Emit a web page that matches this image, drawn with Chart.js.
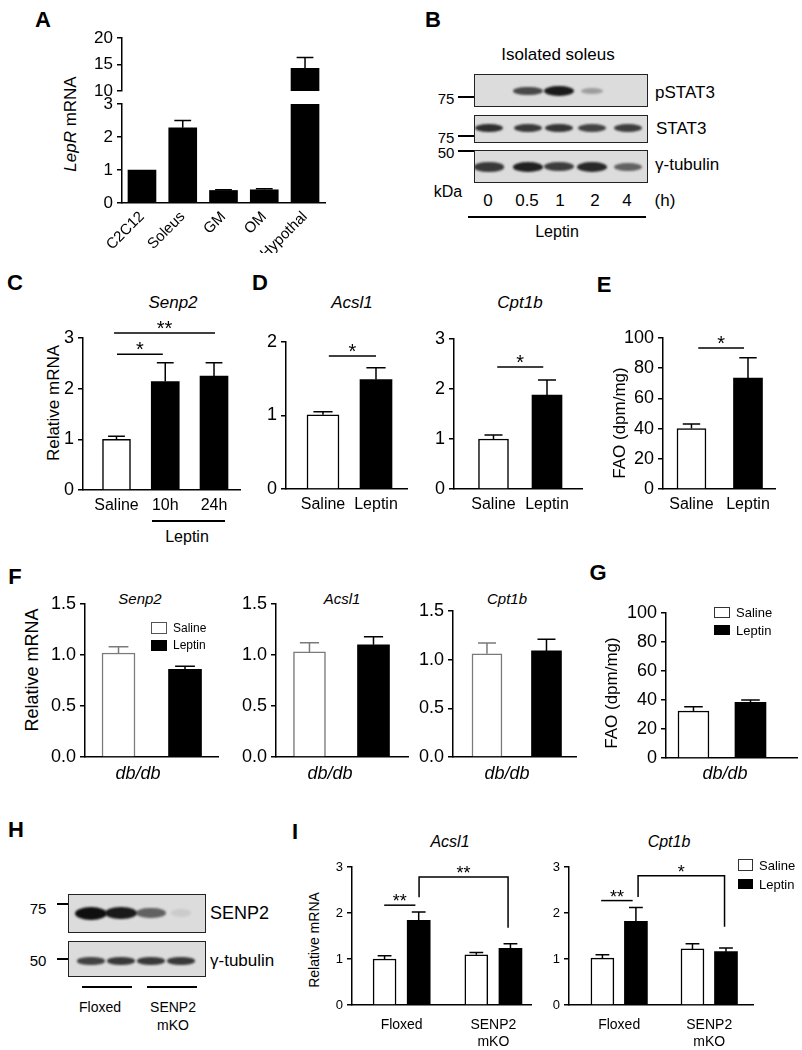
<!DOCTYPE html>
<html><head><meta charset="utf-8">
<script src="https://cdn.jsdelivr.net/npm/chart.js@4.4.0/dist/chart.umd.min.js"></script>
<style>
html,body{margin:0;padding:0;background:#fff;}
#fig{position:relative;width:802px;height:1050px;overflow:hidden;font-family:'Liberation Sans',Arial,Helvetica,sans-serif;color:#000;}
.t{position:absolute;white-space:nowrap;line-height:1;}
.cv{position:absolute;}
.ln{position:absolute;background:#000;}
.blot{position:absolute;background:#dcdcdc;border:1.5px solid #222;box-sizing:border-box;overflow:hidden;}
.band{position:absolute;border-radius:50%;filter:blur(1.3px);}
</style></head><body><div id="fig"></div>
<script>
// ---------------- DATA ----------------
// Panel A
const tissuesA = ['C2C12', 'Soleus', 'GM', 'OM', 'Hypothal'];
const lepRmRNA = [1.0, 2.28, 0.38, 0.40, 14.26];
const lepRErr  = [0, 0.22, 0.02, 0.03, 2.05];
const yTicksALow  = [0, 1, 2, 3];
const yTicksAHigh = [10, 15, 20];
// Panel B (western blot band intensities, 0..1)
const laneTimesB  = ['0', '0.5', '1', '2', '4'];
const pSTAT3Band  = [0.0, 0.72, 0.95, 0.3, 0.0];
const stat3Band   = [0.85, 0.8, 0.82, 0.75, 0.78];
const tubBandB    = [0.8, 0.92, 0.78, 0.88, 0.6];
// Panel C
const groupsC   = ['Saline', '10h', '24h'];
const senp2C    = [1.0, 2.14, 2.25];
const senp2CErr = [0.06, 0.37, 0.26];
// Two-group panels
const groupsSL  = ['Saline', 'Leptin'];
const acsl1D = [1.01, 1.49];  const acsl1DErr = [0.04, 0.16];
const cpt1bD = [1.0, 1.88];   const cpt1bDErr = [0.08, 0.30];
const faoE   = [40, 73.5];    const faoEErr   = [3, 13.5];
const senp2F = [1.02, 0.86];  const senp2FErr = [0.06, 0.03];
const acsl1F = [1.03, 1.10];  const acsl1FErr = [0.09, 0.08];
const cpt1bF = [1.06, 1.09];  const cpt1bFErr = [0.11, 0.12];
const faoG   = [32.4, 38.4];  const faoGErr   = [3, 1.6];
// Panel H blot
const senp2BandH = [1.0, 0.95, 0.6, 0.08];
const tubBandH   = [0.75, 0.8, 0.8, 0.8];
// Panel I
const genotypesI = ['Floxed', ['SENP2', 'mKO']];
const acsl1ISaline = [1.0, 1.09];  const acsl1ISalineErr = [0.07, 0.05];
const acsl1ILeptin = [1.84, 1.23]; const acsl1ILeptinErr = [0.18, 0.10];
const cpt1bISaline = [1.02, 1.22]; const cpt1bISalineErr = [0.07, 0.11];
const cpt1bILeptin = [1.82, 1.16]; const cpt1bILeptinErr = [0.30, 0.08];
// tick sets
const yTicks3 = [0, 1, 2, 3];
const yTicks2 = [0, 1, 2];
const yTicks100 = [0, 20, 40, 60, 80, 100];
const yTicks15 = [0, 0.5, 1.0, 1.5];
// significance marks (data coordinates)
const sigC  = [{x1: 0.01, x2: 0.95, y: 2.68, text: '*'}, {x1: -0.05, x2: 2.02, y: 3.1, text: '**'}];
const sigD1 = [{x1: 0.11, x2: 1.0, y: 1.81, text: '*'}];
const sigD2 = [{x1: 0.07, x2: 0.93, y: 2.44, text: '*'}];
const sigE  = [{x1: 0.12, x2: 0.93, y: 93.4, text: '*'}];
const sigI1 = [{x1: -0.19, x2: 0.15, y: 2.17, text: '**'},
               {x1: 0.19, x2: 1.16, y: 2.78, y1: 2.34, y2: 1.68, text: '**'}];
const sigI2 = [{x1: -0.20, x2: 0.15, y: 2.27, text: '**'},
               {x1: 0.21, x2: 1.17, y: 2.81, y1: 2.35, y2: 1.70, text: '*'}];

// ---------------- HELPERS ----------------
const FONT = "'Liberation Sans', Arial, Helvetica, sans-serif";
Chart.defaults.font.family = FONT;
Chart.defaults.color = '#000';
const fig = document.getElementById('fig');

function text(str, x, y, o = {}) {
  const d = document.createElement('div');
  d.className = 't';
  d.innerHTML = str;
  d.style.fontSize = (o.size || 16) + 'px';
  if (o.bold) d.style.fontWeight = 'bold';
  if (o.italic) d.style.fontStyle = 'italic';
  const tx = o.anchor === 'left' ? '0' : '-50%';
  d.style.left = x + 'px';
  d.style.top = y + 'px';
  d.style.transform = `translate(${tx},-50%)` + (o.rotate ? ` rotate(${o.rotate}deg)` : '');
  fig.appendChild(d);
}
function hl(x1, x2, y, w = 1.5) {
  const d = document.createElement('div'); d.className = 'ln';
  d.style.left = x1 + 'px'; d.style.top = (y - w / 2) + 'px';
  d.style.width = (x2 - x1) + 'px'; d.style.height = w + 'px';
  fig.appendChild(d);
}
function rect(x, y, w, h, fill, border) {
  const d = document.createElement('div');
  d.style.position = 'absolute';
  d.style.left = x + 'px'; d.style.top = y + 'px';
  d.style.width = w + 'px'; d.style.height = h + 'px';
  d.style.boxSizing = 'border-box';
  d.style.background = fill;
  d.style.border = '1.5px solid ' + border;
  fig.appendChild(d);
}
function blot(x, y, w, h, lanes, vals, bw, bh, by) {
  const b = document.createElement('div'); b.className = 'blot';
  b.style.left = x + 'px'; b.style.top = y + 'px';
  b.style.width = w + 'px'; b.style.height = h + 'px';
  vals.forEach((v, i) => {
    if (v <= 0.01) return;
    const s = document.createElement('div'); s.className = 'band';
    const ww = bw * (0.6 + 0.4 * Math.min(1, v * 1.3));
    const hh = bh * (0.55 + 0.45 * v);
    s.style.width = ww + 'px'; s.style.height = hh + 'px';
    s.style.left = (lanes[i] - x - ww / 2) + 'px';
    s.style.top = (by - y - hh / 2) + 'px';
    s.style.background = `rgba(15,15,15,${Math.min(1, v)})`;
    b.appendChild(s);
  });
  fig.appendChild(b);
}

const errorBars = {
  id: 'errorBars',
  afterDatasetsDraw(chart) {
    const {ctx, chartArea: a} = chart;
    const ys = chart.scales.y;
    ctx.save();
    ctx.beginPath();
    ctx.rect(a.left - 20, a.top - 1, a.right - a.left + 40, a.bottom - a.top + 1);
    ctx.clip();
    chart.data.datasets.forEach((ds, di) => {
      if (!ds.errors) return;
      const meta = chart.getDatasetMeta(di);
      meta.data.forEach((bar, i) => {
        const e = ds.errors[i];
        if (!e) return;
        const yTop = ys.getPixelForValue(ds.data[i].y + e);
        const half = bar.width * 0.3;
        ctx.strokeStyle = ds.errColor; ctx.lineWidth = 1.5;
        ctx.beginPath();
        ctx.moveTo(bar.x, bar.y); ctx.lineTo(bar.x, yTop);
        ctx.moveTo(bar.x - half, yTop); ctx.lineTo(bar.x + half, yTop);
        ctx.stroke();
      });
    });
    ctx.restore();
  }
};
const sigMarks = {
  id: 'sigMarks',
  afterDraw(chart, args, opts) {
    const items = opts.items || [];
    if (!items.length) return;
    const {ctx} = chart; const xs = chart.scales.x, ys = chart.scales.y;
    ctx.save();
    ctx.strokeStyle = '#000'; ctx.fillStyle = '#000'; ctx.lineWidth = 1.5;
    ctx.font = `${opts.size || 20}px ${FONT}`;
    ctx.textAlign = 'center'; ctx.textBaseline = 'alphabetic';
    items.forEach(it => {
      const X1 = xs.getPixelForValue(it.x1), X2 = xs.getPixelForValue(it.x2);
      const Y = ys.getPixelForValue(it.y);
      ctx.beginPath();
      if (it.y1 !== undefined) {
        ctx.moveTo(X1, ys.getPixelForValue(it.y1)); ctx.lineTo(X1, Y);
        ctx.lineTo(X2, Y); ctx.lineTo(X2, ys.getPixelForValue(it.y2));
      } else { ctx.moveTo(X1, Y); ctx.lineTo(X2, Y); }
      ctx.stroke();
      ctx.fillText(it.text, (X1 + X2) / 2, Y + (opts.dy || 2));
    });
    ctx.restore();
  }
};

function ds(xs, ys, errs, kind, thick) {
  return {
    data: xs.map((x, i) => ({x, y: ys[i]})),
    errors: errs,
    backgroundColor: kind === 'black' ? '#000' : '#fff',
    borderColor: kind === 'gray' ? '#7a7a7a' : '#000',
    borderWidth: kind === 'black' ? 0 : 1.5,
    errColor: kind === 'gray' ? '#7a7a7a' : '#000',
    barThickness: thick, grouped: false, clip: 0
  };
}

function makeBar(P, o) {
  // keep Chart.js from pushing the plot area inward for y tick label overflow
  const yFont = o.yFont || 18;
  const need = Math.ceil(yFont * 0.6 + 4 + 1);
  const padT = Math.max(P.padT, need);
  const padB = Math.max(P.padB || 0, need - P.Xh);
  const W = P.right - P.left + P.Yw + P.padR;
  const H = P.bottom - P.top + padT + padB + P.Xh;
  const wrap = document.createElement('div'); wrap.className = 'cv';
  wrap.style.left = (P.left - P.Yw) + 'px'; wrap.style.top = (P.top - padT) + 'px';
  wrap.style.width = W + 'px'; wrap.style.height = H + 'px';
  const cv = document.createElement('canvas');
  cv.width = W; cv.height = H; cv.style.width = W + 'px'; cv.style.height = H + 'px';
  wrap.appendChild(cv); fig.appendChild(wrap);
  const xTicks = o.xLabels ? o.xLabels.map((_, i) => i) : [];
  new Chart(cv, {
    type: 'bar',
    data: {datasets: o.datasets},
    options: {
      responsive: false, animation: false, devicePixelRatio: 1,
      layout: {padding: {top: padT, right: P.padR, bottom: padB, left: 0}},
      plugins: {legend: {display: false}, tooltip: {enabled: false},
                sigMarks: {items: o.sig || [], size: o.sigSize || 20, dy: o.sigDy || 2}},
      scales: {
        x: {
          type: 'linear', min: o.xMin, max: o.xMax, display: o.xDisplay !== false, offset: false,
          grid: {display: false, drawTicks: false, offset: false},
          border: {display: true, color: '#000', width: 1.5},
          afterBuildTicks: s => { s.ticks = xTicks.map(v => ({value: v})); },
          ticks: {display: !!o.xLabels, autoSkip: false, maxRotation: o.xRot || 0, minRotation: o.xRot || 0,
                  padding: o.xPad || 6, font: {size: o.xFont || 16}, color: '#000',
                  callback: (v, i) => o.xLabels ? o.xLabels[i] : ''},
          afterFit: s => { s.height = P.Xh; }
        },
        y: {
          min: o.yMin, max: o.yMax,
          afterBuildTicks: s => { s.ticks = o.yTicks.map(v => ({value: v})); },
          ticks: {padding: 4, font: {size: yFont}, color: '#000',
                  callback: v => (o.yDec ? v.toFixed(o.yDec) : String(v))},
          grid: {display: true, drawOnChartArea: false, drawTicks: true, tickLength: 5, color: '#000', lineWidth: 1.5},
          border: {display: true, color: '#000', width: 1.5},
          afterFit: s => { s.width = P.Yw; }
        }
      }
    },
    plugins: [errorBars, sigMarks]
  });
}

// ---------------- PANEL A ----------------
text('A', 43, 20, {size: 22, bold: true});
text('<i>LepR</i> mRNA', 70, 124, {size: 17, rotate: -90});
const idxA = tissuesA.map((_, i) => i);
makeBar({left: 122, right: 325, top: 38, bottom: 91, padT: 10, padR: 10, padB: 10, Yw: 62, Xh: 0}, {
  xMin: -0.49, xMax: 4.49, xDisplay: false, yMin: 10, yMax: 20, yTicks: yTicksAHigh, yFont: 17,
  datasets: [ds(idxA, lepRmRNA, lepRErr, 'black', 28)]
});
makeBar({left: 122, right: 325, top: 104, bottom: 203, padT: 8, padR: 10, Yw: 62, Xh: 50}, {
  xMin: -0.49, xMax: 4.49, xLabels: tissuesA, xRot: 45, xFont: 15, xPad: 5,
  yMin: 0, yMax: 3, yTicks: yTicksALow, yFont: 17,
  datasets: [ds(idxA, lepRmRNA, lepRErr, 'black', 28)]
});

// ---------------- PANEL B ----------------
text('B', 433, 20, {size: 22, bold: true});
text('Isolated soleus', 558, 54, {size: 17});
const lanesB = [488, 527, 558, 591, 627];
blot(474, 74, 174, 33, lanesB, pSTAT3Band, 30, 10, 90);
blot(474, 115, 174, 28, lanesB, stat3Band, 28, 9, 127);
blot(474, 150, 174, 33, lanesB, tubBandB, 30, 10, 166);
text('pSTAT3', 655, 92, {size: 17, anchor: 'left'});
text('STAT3', 656, 128, {size: 17, anchor: 'left'});
text('γ-tubulin', 655, 164, {size: 17, anchor: 'left'});
text('75', 446, 98, {size: 15}); hl(458, 474, 97);
text('75', 446, 137, {size: 15}); hl(458, 474, 136);
text('50', 446, 152, {size: 15}); hl(458, 474, 151);
text('kDa', 448, 192, {size: 16});
const laneLabelX = [488, 527, 560, 595, 627];
laneTimesB.forEach((s, i) => text(s, laneLabelX[i], 200, {size: 17}));
text('(h)', 665, 200, {size: 17});
hl(468, 646, 217);
text('Leptin', 557, 232, {size: 16});

// ---------------- PANEL C ----------------
text('C', 15, 283, {size: 22, bold: true});
text('Senp2', 173, 302, {size: 17, italic: true});
text('Relative mRNA', 53, 403, {size: 17, rotate: -90});
makeBar({left: 83, right: 240, top: 338, bottom: 490, padT: 26, padR: 8, Yw: 42, Xh: 30}, {
  xMin: -0.687, xMax: 2.533, xLabels: groupsC, yMin: 0, yMax: 3, yTicks: yTicks3,
  datasets: [ds([0], senp2C.slice(0, 1), senp2CErr.slice(0, 1), 'white', 28),
             ds([1, 2], senp2C.slice(1), senp2CErr.slice(1), 'black', 28)],
  sig: sigC
});
hl(152, 225, 521);
text('Leptin', 187, 537, {size: 16});

// ---------------- PANEL D ----------------
text('D', 260, 283, {size: 22, bold: true});
text('Acsl1', 352, 302, {size: 17, italic: true});
text('Cpt1b', 520, 302, {size: 17, italic: true});
makeBar({left: 286, right: 407, top: 342, bottom: 489, padT: 12, padR: 8, Yw: 40, Xh: 30}, {
  xMin: -0.698, xMax: 1.585, xLabels: groupsSL, yMin: 0, yMax: 2, yTicks: yTicks2,
  datasets: [ds([0], [acsl1D[0]], [acsl1DErr[0]], 'white', 32), ds([1], [acsl1D[1]], [acsl1DErr[1]], 'black', 32)],
  sig: sigD1
});
makeBar({left: 454, right: 582, top: 339, bottom: 489, padT: 12, padR: 8, Yw: 40, Xh: 30}, {
  xMin: -0.738, xMax: 1.654, xLabels: groupsSL, yMin: 0, yMax: 3, yTicks: yTicks3,
  datasets: [ds([0], [cpt1bD[0]], [cpt1bDErr[0]], 'white', 30), ds([1], [cpt1bD[1]], [cpt1bDErr[1]], 'black', 30)],
  sig: sigD2
});

// ---------------- PANEL E ----------------
text('E', 604, 285, {size: 22, bold: true});
text('FAO (dpm/mg)', 619, 423, {size: 17, rotate: -90});
makeBar({left: 663, right: 775, top: 338, bottom: 489, padT: 14, padR: 8, Yw: 45, Xh: 30}, {
  xMin: -0.504, xMax: 1.478, xLabels: groupsSL, yMin: 0, yMax: 100, yTicks: yTicks100,
  datasets: [ds([0], [faoE[0]], [faoEErr[0]], 'white', 29), ds([1], [faoE[1]], [faoEErr[1]], 'black', 29)],
  sig: sigE
});

// ---------------- PANEL F ----------------
text('F', 15, 577, {size: 22, bold: true});
text('Senp2', 140, 598, {size: 15, italic: true});
text('Acsl1', 342, 598, {size: 15, italic: true});
text('Cpt1b', 507, 598, {size: 15, italic: true});
text('Relative mRNA', 32, 670, {size: 18, rotate: -90});
makeBar({left: 85, right: 218, top: 604, bottom: 757, padT: 10, padR: 5, Yw: 42, Xh: 4}, {
  xMin: -0.504, xMax: 1.496, yMin: 0, yMax: 1.5, yTicks: yTicks15, yDec: 1,
  datasets: [ds([0], [senp2F[0]], [senp2FErr[0]], 'gray', 33), ds([1], [senp2F[1]], [senp2FErr[1]], 'black', 33)]
});
makeBar({left: 276, right: 408, top: 604, bottom: 757, padT: 10, padR: 5, Yw: 42, Xh: 4}, {
  xMin: -0.523, xMax: 1.539, yMin: 0, yMax: 1.5, yTicks: yTicks15, yDec: 1,
  datasets: [ds([0], [acsl1F[0]], [acsl1FErr[0]], 'gray', 32), ds([1], [acsl1F[1]], [acsl1FErr[1]], 'black', 32)]
});
makeBar({left: 453, right: 576, top: 611, bottom: 757, padT: 10, padR: 5, Yw: 42, Xh: 4}, {
  xMin: -0.571, xMax: 1.496, yMin: 0, yMax: 1.5, yTicks: yTicks15, yDec: 1,
  datasets: [ds([0], [cpt1bF[0]], [cpt1bFErr[0]], 'gray', 30), ds([1], [cpt1bF[1]], [cpt1bFErr[1]], 'black', 30)]
});
rect(151, 622, 16, 12, '#fff', '#555'); text('Saline', 173, 628, {size: 12, anchor: 'left'});
rect(151, 640, 16, 11, '#000', '#000'); text('Leptin', 173, 645, {size: 12, anchor: 'left'});
[138, 330, 507, 725].forEach(x => text('db/db', x, 773, {size: 18, italic: true}));

// ---------------- PANEL G ----------------
text('G', 598, 573, {size: 22, bold: true});
text('FAO (dpm/mg)', 611, 693, {size: 17, rotate: -90});
makeBar({left: 666, right: 797, top: 613, bottom: 758, padT: 10, padR: 4, Yw: 45, Xh: 4}, {
  xMin: -0.482, xMax: 1.816, yMin: 0, yMax: 100, yTicks: yTicks100,
  datasets: [ds([0], [faoG[0]], [faoGErr[0]], 'white', 31), ds([1], [faoG[1]], [faoGErr[1]], 'black', 31)]
});
rect(714, 607, 16, 11, '#fff', '#333'); text('Saline', 736, 612, {size: 13, anchor: 'left'});
rect(714, 625, 16, 10, '#000', '#000'); text('Leptin', 736, 630, {size: 13, anchor: 'left'});

// ---------------- PANEL H ----------------
text('H', 16, 830, {size: 22, bold: true});
const lanesH = [90, 120, 150, 180];
blot(68, 894, 138, 39, lanesH, senp2BandH, 32, 13, 912);
blot(68, 941, 138, 36, lanesH, tubBandH, 28, 8, 960);
text('75', 38, 908, {size: 15}); hl(57, 68, 904);
text('50', 38, 960, {size: 15}); hl(57, 68, 959);
text('SENP2', 210, 913, {size: 18, anchor: 'left'});
text('γ-tubulin', 210, 960, {size: 17, anchor: 'left'});
hl(82, 132, 987); hl(147, 197, 987);
text('Floxed', 100, 1007, {size: 14});
text('SENP2', 173, 1007, {size: 14});
text('mKO', 173, 1025, {size: 14});

// ---------------- PANEL I ----------------
text('I', 295, 832, {size: 22, bold: true});
text('Acsl1', 450, 842, {size: 16, italic: true});
text('Cpt1b', 669, 842, {size: 16, italic: true});
text('Relative mRNA', 314, 940, {size: 14, rotate: -90});
const offI = 0.186;
const gI = genotypesI.map((_, i) => i);
makeBar({left: 352, right: 531, top: 867, bottom: 1005, padT: 18, padR: 5, Yw: 30, Xh: 45}, {
  xMin: -0.541, xMax: 1.41, xLabels: genotypesI, xFont: 14, xPad: 12, yMin: 0, yMax: 3, yTicks: yTicks3, yFont: 13,
  datasets: [ds(gI.map(g => g - offI), acsl1ISaline, acsl1ISalineErr, 'white', 23),
             ds(gI.map(g => g + offI), acsl1ILeptin, acsl1ILeptinErr, 'black', 23)],
  sig: sigI1, sigSize: 18, sigDy: 2
});
makeBar({left: 569, right: 753, top: 867, bottom: 1005, padT: 18, padR: 5, Yw: 30, Xh: 45}, {
  xMin: -0.557, xMax: 1.486, xLabels: genotypesI, xFont: 14, xPad: 12, yMin: 0, yMax: 3, yTicks: yTicks3, yFont: 13,
  datasets: [ds(gI.map(g => g - offI), cpt1bISaline, cpt1bISalineErr, 'white', 23),
             ds(gI.map(g => g + offI), cpt1bILeptin, cpt1bILeptinErr, 'black', 23)],
  sig: sigI2, sigSize: 18, sigDy: 2
});
rect(738, 859, 15, 12, '#fff', '#333'); text('Saline', 759, 865, {size: 13, anchor: 'left'});
rect(738, 879, 15, 10, '#000', '#000'); text('Leptin', 759, 884, {size: 13, anchor: 'left'});
</script></body></html>
